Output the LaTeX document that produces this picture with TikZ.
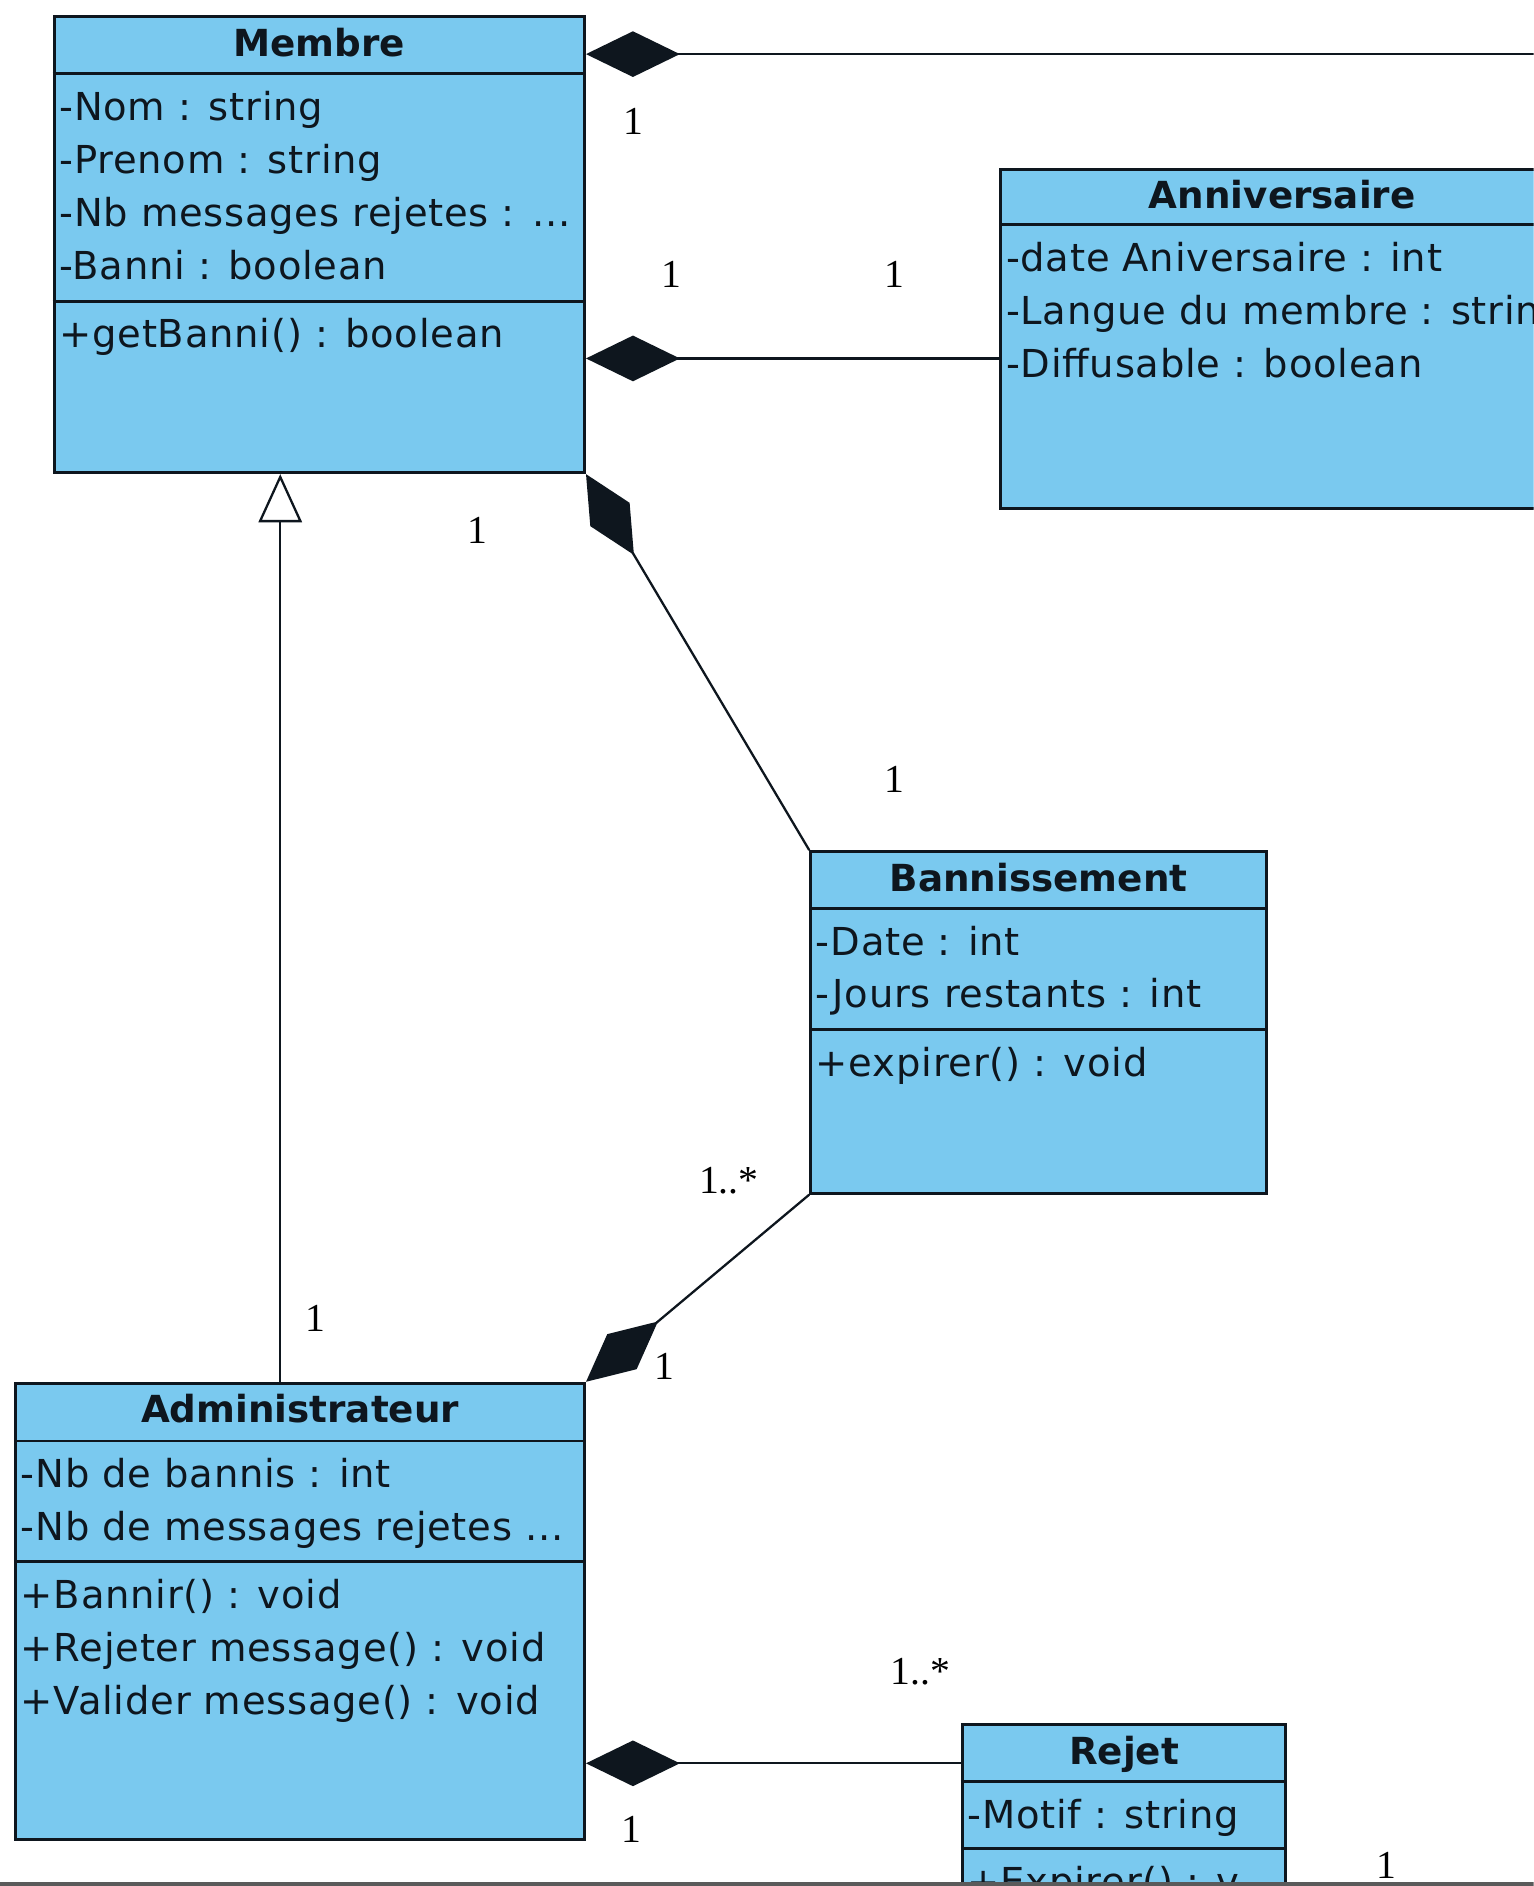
\documentclass[tikz,border=0pt]{standalone}
\usepackage{fontspec}
\usetikzlibrary{arrows.meta,fit}
\newfontfamily\umlfont{DejaVu Sans}[LetterSpace=2.0]
\newfontfamily\umltitle{DejaVu Sans}
\newfontfamily\multfont{Liberation Serif}
\definecolor{classfill}{RGB}{122,201,239}
\definecolor{ink}{RGB}{14,22,30}
\definecolor{framegray}{RGB}{90,90,90}
\tikzset{
  classbox/.style={draw=ink, line width=1.2pt, fill=classfill, inner sep=0pt},
  compartment/.style={draw=ink, line width=1.2pt},
  classname/.style={anchor=base, inner sep=0pt, text=ink,
    font=\umltitle\bfseries\fontsize{15.5}{18}\selectfont},
  member/.style={anchor=base west, inner sep=0pt, text=ink,
    font=\umlfont\fontsize{16}{19}\selectfont},
  mult/.style={inner sep=0pt, text=black,
    font=\multfont\fontsize{16.5}{19}\selectfont},
  assoc/.style={draw=ink, line width=0.95pt},
  compo/.style={assoc, {Diamond[length=39pt,width=19pt]}-},
  gen/.style={assoc, {Triangle[open,length=20pt,width=18pt,fill=white]}-}
}
\begin{document}
\begin{tikzpicture}[x=0.5pt,y=-0.5pt]
\path[use as bounding box] (0,0) rectangle (1275,1568);
\fill[white] (0,0) rectangle (1275,1568);
\begin{scope}
\clip (0,0) rectangle (1275,1568);

% ---------- classes ----------
\node[classbox, fit={(45,14) (486,393)}] (membre) {};
\draw[compartment] (membre.west |- 0,61) -- (membre.east |- 0,61);
\draw[compartment] (membre.west |- 0,251) -- (membre.east |- 0,251);
\node[classname] (membreT) at (membre.north |- 0,47) {Membre};
\node[member] (membreA1) at (49,100) {-Nom : string};
\node[member] (membreA2) at (49,144) {-Prenom : string};
\node[member] (membreA3) at (49,188) {-Nb messages rejetes : ...};
\node[member] (membreA4) at (49,232) {-Banni : boolean};
\node[member] (membreM1) at (49,289) {+getBanni() : boolean};

\node[classbox, fit={(832,141) (1300,423)}] (anniv) {};
\draw[compartment] (anniv.west |- 0,187) -- (anniv.east |- 0,187);
\node[classname] (annivT) at (anniv.north |- 0,173) {Anniversaire};
\node[member] (annivA1) at (836,226) {-date Aniversaire : int};
\node[member] (annivA2) at (836,270) {-Langue du membre : string};
\node[member] (annivA3) at (836,314) {-Diffusable : boolean};

\node[classbox, fit={(674,708) (1053,992)}] (bann) {};
\draw[compartment] (bann.west |- 0,755) -- (bann.east |- 0,755);
\draw[compartment] (bann.west |- 0,856) -- (bann.east |- 0,856);
\node[classname] (bannT) at (bann.north |- 0,741) {Bannissement};
\node[member] (bannA1) at (678,794) {-Date : int};
\node[member] (bannA2) at (678,838) {-Jours restants : int};
\node[member] (bannM1) at (678,895) {+expirer() : void};

\node[classbox, fit={(13,1150) (486,1529)}] (admin) {};
\draw[compartment] (admin.west |- 0,1198) -- (admin.east |- 0,1198);
\draw[compartment] (admin.west |- 0,1298) -- (admin.east |- 0,1298);
\node[classname] (adminT) at (admin.north |- 0,1183) {Administrateur};
\node[member] (adminA1) at (17,1237) {-Nb de bannis : int};
\node[member] (adminA2) at (17,1281) {-Nb de messages rejetes ...};
\node[member] (adminM1) at (17,1337) {+Bannir() : void};
\node[member] (adminM2) at (17,1381) {+Rejeter message() : void};
\node[member] (adminM3) at (17,1425) {+Valider message() : void};

\node[classbox, fit={(800,1434) (1069,1620)}] (rejet) {};
\draw[compartment] (rejet.west |- 0,1481) -- (rejet.east |- 0,1481);
\draw[compartment] (rejet.west |- 0,1537) -- (rejet.east |- 0,1537);
\node[classname] (rejetT) at (rejet.north |- 0,1467) {Rejet};
\node[member] (rejetA1) at (804,1520) {-Motif : string};
\node[member] (rejetM1) at (804,1576) {+Expirer() : v...};

% ---------- relations ----------
\coordinate (topEnd) at (1300,45);
\draw[compo] (membre.east |- 0,45) -- (topEnd);
\draw[compo] (membre.east |- 0,298) -- (anniv.west |- 0,298);
\draw[compo] (membre.south east) -- (bann.north west);
\draw[compo] (admin.north east) -- (bann.south west);
\draw[gen] (membre.south -| 233,0) -- (admin.north -| 233,0);
\draw[compo] (admin.east |- 0,1466) -- (rejet.west |- 0,1466);

% ---------- multiplicities ----------
\node[mult] (mTop)   at (527,101)  {1};
\node[mult] (mAnA)   at (558,228)  {1};
\node[mult] (mAnB)   at (744,228)  {1};
\node[mult] (mBaA)   at (397,441)  {1};
\node[mult] (mBaB)   at (744,648)  {1};
\node[mult] (mAdB)   at (606,982)  {1..*};
\node[mult] (mAdA)   at (552,1136) {1};
\node[mult] (mGen)   at (262,1096) {1};
\node[mult] (mReB)   at (765,1390) {1..*};
\node[mult] (mReA)   at (525,1521) {1};
\node[mult] (mOut)   at (1153,1551) {1};

% window edge
\draw[framegray, line width=1.5pt] (0,1566.5) -- (1275,1566.5);
\end{scope}
\end{tikzpicture}
\end{document}
